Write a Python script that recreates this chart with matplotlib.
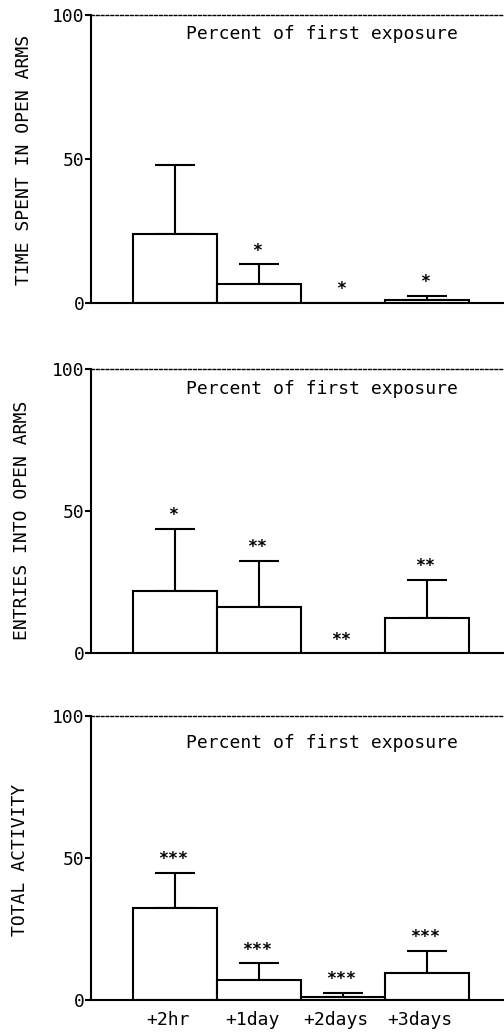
import matplotlib
matplotlib.use("Agg")
import matplotlib.pyplot as plt
import numpy as np

categories = ["+2hr", "+1day", "+2days", "+3days"]

time_mean = [24.0, 6.7, 0.0, 1.0]
time_sem = [23.8, 6.7, 0.0, 1.4]
time_stars = ["", "*", "*", "*"]

entries_mean = [21.9, 16.3, 0.0, 12.5]
entries_sem = [21.8, 16.3, 0.0, 13.3]
entries_stars = ["*", "**", "**", "**"]

activity_mean = [32.5, 7.0, 1.2, 9.5]
activity_sem = [12.3, 5.9, 1.4, 7.7]
activity_stars = ["***", "***", "***", "***"]

ylabels = ["TIME SPENT IN OPEN ARMS", "ENTRIES INTO OPEN ARMS", "TOTAL ACTIVITY"]
note = "Percent of first exposure"

FONT = "DejaVu Sans Mono"
plt.rcParams["font.family"] = FONT

W, H = 504, 1033
fig = plt.figure(figsize=(W / 100, H / 100), dpi=100)

# pixel geometry (top, bottom) of each panel
panels_px = [(15, 303), (369, 653.3), (715.7, 1000)]
left_px = 91
ylabel_pos = [(24, 159.5), (22, 520), (20, 860)]
note_y = [93.5, 93.0, 90.5]

data = [
    (time_mean, time_sem, time_stars),
    (entries_mean, entries_sem, entries_stars),
    (activity_mean, activity_sem, activity_stars),
]

x = np.arange(1, len(categories) + 1)
lw = 1.5

for i, ((top, bot), (mean, sem, stars)) in enumerate(zip(panels_px, data)):
    ax = fig.add_axes([left_px / W, 1 - bot / H, 1 - left_px / W, (bot - top) / H])
    ax.set_xlim(0, (W - left_px) / 84.0)
    ax.set_ylim(0, 100)
    ax.bar(x, mean, width=1.0, color="white", edgecolor="black", linewidth=lw, zorder=2)
    m = np.array(mean)
    s = np.array(sem)
    mask = s > 0
    ax.errorbar(x[mask], m[mask], yerr=[np.zeros(mask.sum()), s[mask]], fmt="none",
                ecolor="black", elinewidth=lw, capsize=14.4, capthick=lw, zorder=1)
    for xi, mi, si, st in zip(x, m, s, stars):
        if st:
            ax.text(xi - 0.02, mi + si + 4.8, st, ha="center", va="center",
                    fontsize=12, fontweight="bold", family=FONT)
    ax.text(2.75, note_y[i], note, ha="center", va="center", fontsize=13, family=FONT)

    ax.spines["right"].set_visible(False)
    ax.spines["left"].set_linewidth(lw)
    ax.spines["bottom"].set_linewidth(lw)
    ax.spines["top"].set_linewidth(1.0)
    ax.spines["top"].set_linestyle((0, (2.0, 1.5)))
    ax.set_yticks([0, 50, 100])
    ax.set_yticklabels(["0", "50", "100"])
    ax.tick_params(axis="y", direction="out", length=4, width=lw, labelsize=13, pad=0.5)
    if i == 2:
        ax.set_xticks(x - 0.08)
        ax.set_xticklabels(categories)
        ax.tick_params(axis="x", length=0, labelsize=13, pad=8)
    else:
        ax.set_xticks([])
    lx, ly = ylabel_pos[i]
    fig.text(lx / W, 1 - ly / H, ylabels[i], rotation=90, ha="center", va="center",
             fontsize=13, family=FONT)

fig.savefig("out.png", dpi=100)
